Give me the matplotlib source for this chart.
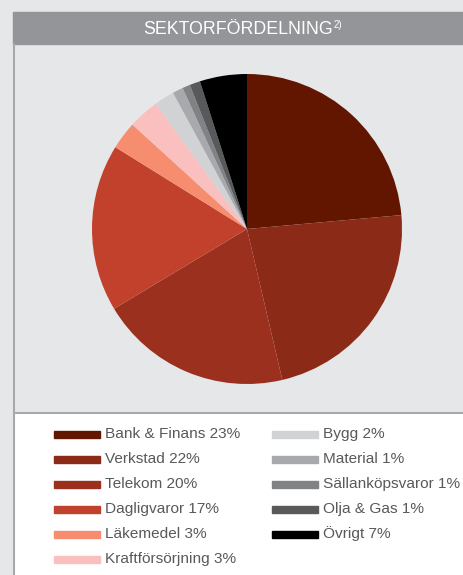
import matplotlib
matplotlib.use("Agg")
import matplotlib.pyplot as plt
from matplotlib.patches import Rectangle
from matplotlib.lines import Line2D

plt.rcParams['font.family'] = ['Liberation Sans', 'DejaVu Sans']

# sectors, in drawing order (clockwise from 12 o'clock)
sectors = ['Bank & Finans', 'Verkstad', 'Telekom', 'Dagligvaror', 'Läkemedel',
           'Kraftförsörjning', 'Bygg', 'Material', 'Sällanköpsvaror',
           'Olja & Gas', 'Övrigt']
legend_pct = ['23%', '22%', '20%', '17%', '3%', '3%', '2%', '1%', '1%', '1%', '7%']
# slice shares as drawn in the picture
shares = [23.5, 22.7, 20.0, 17.4, 2.9, 3.2, 2.1, 1.1, 0.8, 1.1, 4.9]
colors = ['#621600', '#8a2a17', '#9b301e', '#c1412d', '#f58d6e', '#f9c0bf',
          '#d1d2d4', '#a7a9ac', '#808285', '#58595b', '#000000']

W, H = 463, 575
fig = plt.figure(figsize=(W / 100, H / 100), dpi=100)
fig.patch.set_facecolor('#e6e7e9')


def fx(x):
    return x / W


def fy(y):
    return 1 - y / H


# title bar
fig.patches.append(Rectangle((fx(13), fy(44)), fx(W - 13), (44 - 12) / H,
                             transform=fig.transFigure, color='#939598', zorder=0))
fig.text(fx(238), fy(29), 'SEKTORFÖRDELNING', color='white', fontsize=12.8,
         ha='center', va='center')
fig.text(fx(334), fy(25), '2)', color='white', fontsize=7, ha='left', va='center')

# white legend area
fig.patches.append(Rectangle((fx(14), 0), fx(W - 14), (H - 413) / H,
                             transform=fig.transFigure, color='white', zorder=0))
fig.lines.append(Line2D([fx(14), 1], [fy(413), fy(413)], transform=fig.transFigure,
                        color='#a7a9ac', lw=1.5))
fig.lines.append(Line2D([fx(14), fx(14)], [0, fy(44)], transform=fig.transFigure,
                        color='#a7a9ac', lw=1.5))

# pie
cx, cy, r = 247, 229, 155
ax = fig.add_axes([fx(cx - r), fy(cy + r), 2 * r / W, 2 * r / H])
ax.pie(shares, colors=colors, startangle=90, counterclock=False,
       wedgeprops=dict(linewidth=0))
ax.set_xlim(-1, 1)
ax.set_ylim(-1, 1)
ax.set_aspect('auto')
ax.axis('off')

# legend, two columns
rows = 6
for i, (name, pct, c) in enumerate(zip(sectors, legend_pct, colors)):
    col, row = divmod(i, rows)
    x0 = 54 + col * 218
    y0 = 434 + row * 25
    fig.patches.append(Rectangle((fx(x0), fy(y0 + 3.5)), 46 / W, 7 / H,
                                 transform=fig.transFigure, color=c))
    fig.text(fx(x0 + 51), fy(y0), f'{name} {pct}', color='#58595b',
             fontsize=11.1, ha='left', va='center')

fig.savefig('out.png', dpi=100, facecolor=fig.get_facecolor())
